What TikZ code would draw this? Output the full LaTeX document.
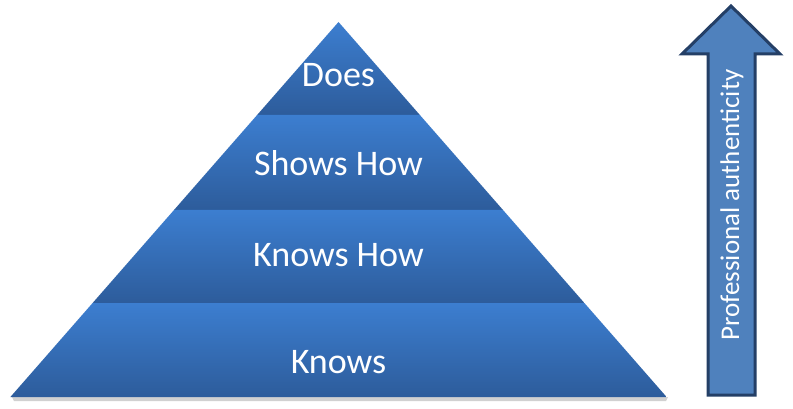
\documentclass[tikz,border=0pt]{standalone}
\usepackage{fontspec}
\setmainfont{Carlito}
\usepackage{tikz}
\usetikzlibrary{calc}
\definecolor{layerTop}{HTML}{3C7ED0}
\definecolor{layerBottom}{HTML}{2D5C9B}
\definecolor{arrowFill}{HTML}{4F81BD}
\definecolor{arrowLine}{HTML}{243F66}

\begin{document}
\begin{tikzpicture}[
    x=1pt, y=-1pt,
    layer/.style={top color=layerTop, bottom color=layerBottom},
    label/.style={text=white, font=\fontsize{36}{40}\selectfont, inner sep=0pt},
    sidelabel/.style={text=white, font=\fontsize{27}{30}\selectfont, rotate=90, inner sep=0pt}
]
    \useasboundingbox (0,0) rectangle (793,409);

    % soft shadow under the base
    \fill[black!18] (12,397) -- (668,397) -- (666,401) -- (14,401) -- cycle;

    % pyramid layers
    \shade[layer] (338.5,22) -- (419.9,115) -- (257.1,115) -- cycle;
    \shade[layer] (257.1,115) -- (419.9,115) -- (503,210) -- (174,210) -- cycle;
    \shade[layer] (174,210) -- (503,210) -- (584.4,303) -- (92.6,303) -- cycle;
    \shade[layer] (92.6,303) -- (584.4,303) -- (666.6,397) -- (10.4,397) -- cycle;

    \node[label] (does) at (338.5,75) {Does};
    \node[label] (showshow) at (338.5,163) {Shows How};
    \node[label] (knowshow) at (338.5,255) {Knows How};
    \node[label] (knows) at (338.5,362) {Knows};

    % arrow on the right
    \draw[fill=arrowFill, draw=arrowLine, line width=3pt, line join=miter]
        (731,6) -- (780,54) -- (755,54) -- (755,395) -- (708,395) -- (708,54) -- (682,54) -- cycle;
    \node[sidelabel] (auth) at (732,205) {Professional authenticity};
\end{tikzpicture}
\end{document}
